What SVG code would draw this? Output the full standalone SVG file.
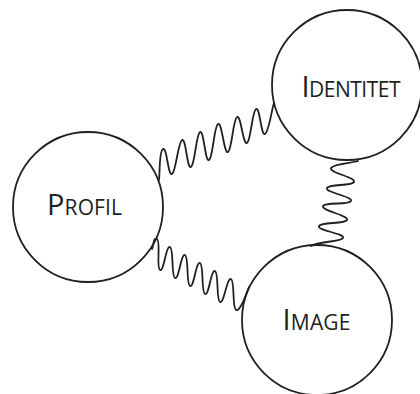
<svg xmlns="http://www.w3.org/2000/svg" width="420" height="394" viewBox="0 0 420 394">
<style>
.node{fill:#fff;stroke:#231f20;stroke-width:1.8}
.spring{fill:none;stroke:#231f20;stroke-width:1.8;stroke-linecap:round;stroke-linejoin:round}
.lbl{font-family:"Open Sans","Noto Sans",sans-serif;fill:#231f20}
.big{font-size:29px}
.sm{font-size:21px}
</style>
<rect width="420" height="394" fill="#fff"/>
<g id="profil">
<circle class="node" cx="88" cy="207" r="75"/>
<text class="lbl" x="47" y="215" textLength="75"><tspan class="big">P</tspan><tspan class="sm">ROFIL</tspan></text>
</g>
<g id="identitet">
<circle class="node" cx="347" cy="85" r="75"/>
<text class="lbl" x="301.5" y="97" textLength="99"><tspan class="big">I</tspan><tspan class="sm">DENTITET</tspan></text>
</g>
<g id="image">
<circle class="node" cx="317" cy="320" r="75"/>
<text class="lbl" x="282.5" y="330" textLength="68"><tspan class="big">I</tspan><tspan class="sm">MAGE</tspan></text>
</g>
<g id="connectors">
<path class="spring" d="M159,180 C160,172 159,151.4 163,149 C167,146.6 168,176.4 172,174 C176,171.6 178,142.4 182,140 C186,137.6 187,169.4 191,167 C195,164.6 196,134.4 200,132 C204,129.6 205,162.4 209,160 C213,157.6 214,126.4 218,124 C222,121.6 224,154.4 228,152 C232,149.6 233,119.4 237,117 C241,114.6 243,145.4 247,143 C251,140.6 252,111.4 256,109 C260,106.6 261,136.4 265,134 C269,131.6 272,108 274,103"/>
<path class="spring" d="M152,249 C154,245 153,237 157,239 C161,241 156,268 160,270 C164,272 166,245 170,247 C174,249 171,276 175,278 C179,280 181,253 185,255 C189,257 186,284 190,286 C194,288 196,261 200,263 C204,265 201,292 205,294 C209,296 211,269 215,271 C219,273 216,300 220,302 C224,304 227,277 231,279 C235,281 232,308 236,310 C240,312 246,295 249,287"/>
<path class="spring" d="M358,161 C352,163 334,163.6 331,168 C328.5,172.4 356.5,177.6 354,182 C351.5,186.4 329.5,183.6 327,188 C324.5,192.4 353.5,196.6 351,201 C348.5,205.4 325.5,201.6 323,206 C320.5,210.4 349.5,215.6 347,220 C344.5,224.4 321.5,221.6 319,226 C316.5,230.4 345.5,233.6 343,238 C340.5,242.4 318,241 311,246"/>
</g>
</svg>
